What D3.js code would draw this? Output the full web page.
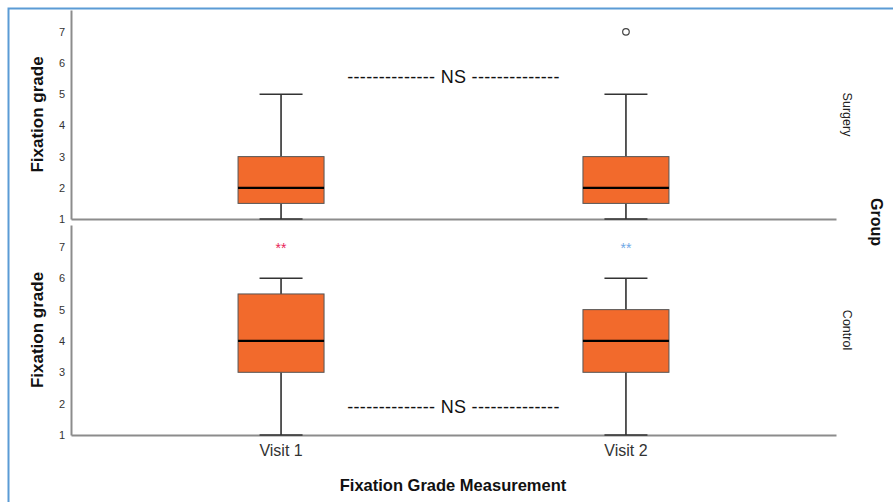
<!DOCTYPE html>
<html>
<head>
<meta charset="utf-8">
<script src="https://cdn.jsdelivr.net/npm/d3@7"></script>
<style>
  body { margin: 0; background: #fff; }
  svg { display: block; font-family: "Liberation Sans", Arial, sans-serif; }
</style>
</head>
<body>
<svg id="chart" width="893" height="502"></svg>
<script>
// data
const groups = ["Surgery", "Control"];
const visits = ["Visit 1", "Visit 2"];
const yTicks = [1, 2, 3, 4, 5, 6, 7];
// [min, q1, median, q3, max] per visit
const surgeryStats = [[1, 1.5, 2, 3, 5], [1, 1.5, 2, 3, 5]];
const controlStats = [[1, 3, 4, 5.5, 6], [1, 3, 4, 5, 6]];
const surgeryOutliers = [[], [7]];
const controlOutliers = [[], []];
const controlStars = ["**", "**"];
const starColors = ["#e8245a", "#6fa8e6"];
const nsLabel = "-------------- NS --------------";

const svg = d3.select("#chart");
const boxFill = "#f26a2c";
const axisGray = "#8c8c8c";

// frame
svg.append("path")
  .attr("d", "M8.5,502 V8.5 H893")
  .attr("fill", "none").attr("stroke", "#5b9bd5").attr("stroke-width", 2);

const x = d3.scalePoint().domain(visits).range([71, 836]).padding(0.609);

const panels = [
  { name: groups[0], stats: surgeryStats, outliers: surgeryOutliers, top: 10, bottom: 219, nsY: 5.55 },
  { name: groups[1], stats: controlStats, outliers: controlOutliers, top: 225, bottom: 435, nsY: 1.9, stars: controlStars }
];

panels.forEach(p => {
  const y = d3.scaleLinear().domain([1, 7.7]).range([p.bottom, p.top]);
  const g = svg.append("g");

  // y axis
  const yAx = g.append("g").attr("transform", "translate(71,0)")
    .call(d3.axisLeft(y).tickValues(yTicks).tickSize(0).tickPadding(6).tickFormat(d3.format("d")));
  yAx.select(".domain").attr("stroke", axisGray).attr("stroke-width", 2);
  yAx.selectAll("text").attr("font-size", 11).attr("fill", "#333")
    .attr("font-family", "Liberation Sans, Arial, sans-serif");

  // x axis line
  const xAx = g.append("g").attr("transform", `translate(0,${p.bottom})`)
    .call(d3.axisBottom(x).tickSize(0).tickFormat(""));
  xAx.select(".domain").attr("stroke", axisGray).attr("stroke-width", 2);

  // boxes
  const bw = 86, cw = 43;
  p.stats.forEach((s, i) => {
    const cx = x(visits[i]);
    const [mn, q1, md, q3, mx] = s;
    const bg = g.append("g");
    bg.append("line").attr("x1", cx).attr("x2", cx).attr("y1", y(mx)).attr("y2", y(q3))
      .attr("stroke", "#222").attr("stroke-width", 1.5);
    bg.append("line").attr("x1", cx).attr("x2", cx).attr("y1", y(q1)).attr("y2", y(mn))
      .attr("stroke", "#222").attr("stroke-width", 1.5);
    bg.append("line").attr("x1", cx - cw / 2).attr("x2", cx + cw / 2).attr("y1", y(mx)).attr("y2", y(mx))
      .attr("stroke", "#333").attr("stroke-width", 1.5);
    bg.append("line").attr("x1", cx - cw / 2).attr("x2", cx + cw / 2).attr("y1", y(mn)).attr("y2", y(mn))
      .attr("stroke", "#333").attr("stroke-width", 1.5);
    bg.append("rect").attr("x", cx - bw / 2).attr("width", bw)
      .attr("y", y(q3)).attr("height", y(q1) - y(q3))
      .attr("fill", boxFill).attr("stroke", "#555").attr("stroke-width", 1);
    bg.append("line").attr("x1", cx - bw / 2).attr("x2", cx + bw / 2).attr("y1", y(md)).attr("y2", y(md))
      .attr("stroke", "#000").attr("stroke-width", 2.2);
    p.outliers[i].forEach(o => {
      bg.append("circle").attr("cx", cx).attr("cy", y(o)).attr("r", 3.3)
        .attr("fill", "#fff").attr("stroke", "#444").attr("stroke-width", 1.2);
    });
    if (p.stars) {
      g.append("text").attr("x", cx).attr("y", y(7) + 6).attr("text-anchor", "middle")
        .attr("font-size", 14).attr("fill", starColors[i]).text(p.stars[i]);
    }
  });

  // NS label
  g.append("text").attr("x", (x(visits[0]) + x(visits[1])) / 2).attr("y", y(p.nsY) + 6)
    .attr("text-anchor", "middle").attr("font-size", 18).attr("letter-spacing", 0.3)
    .attr("font-weight", 500).attr("fill", "#111").text(nsLabel);

  // y title
  g.append("text").attr("transform", `translate(43,${(p.top + p.bottom) / 2}) rotate(-90)`)
    .attr("text-anchor", "middle").attr("font-size", 17).attr("font-weight", "bold").attr("fill", "#111")
    .text("Fixation grade");

  // strip label
  g.append("text").attr("transform", `translate(843,${(p.top + p.bottom) / 2}) rotate(90)`)
    .attr("text-anchor", "middle").attr("font-size", 12.5).attr("fill", "#222").text(p.name);
});

// x tick labels
visits.forEach(v => {
  svg.append("text").attr("x", x(v)).attr("y", 456).attr("text-anchor", "middle")
    .attr("font-size", 16).attr("fill", "#333").text(v);
});

svg.append("text").attr("x", 453).attr("y", 491).attr("text-anchor", "middle")
  .attr("font-size", 16.5).attr("font-weight", "bold").attr("fill", "#111").text("Fixation Grade Measurement");

svg.append("text").attr("transform", "translate(871,222) rotate(90)").attr("text-anchor", "middle")
  .attr("font-size", 16).attr("font-weight", "bold").attr("fill", "#111").text("Group");
</script>
</body>
</html>
